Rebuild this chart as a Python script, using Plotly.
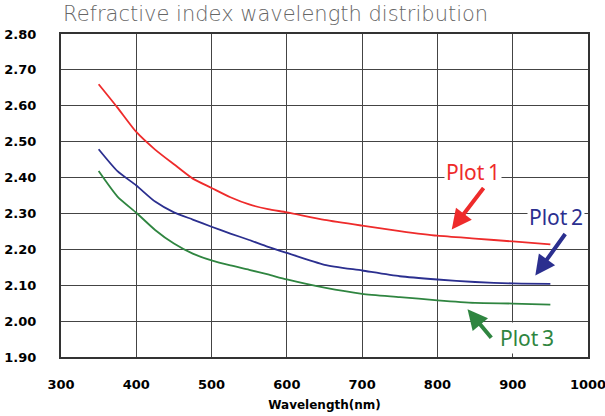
import plotly.graph_objects as go

wavelength = [350, 375, 400, 425, 450, 475, 500, 525, 550, 575, 600, 650, 700, 750, 800, 850, 900, 950]
plot1 = [2.660, 2.595, 2.527, 2.478, 2.437, 2.397, 2.371, 2.345, 2.325, 2.312, 2.303, 2.282, 2.266, 2.251, 2.238, 2.230, 2.222, 2.214]
plot2 = [2.479, 2.418, 2.378, 2.333, 2.303, 2.283, 2.263, 2.244, 2.226, 2.207, 2.190, 2.157, 2.141, 2.125, 2.116, 2.109, 2.105, 2.104]
plot3 = [2.418, 2.347, 2.302, 2.254, 2.216, 2.188, 2.169, 2.155, 2.143, 2.130, 2.116, 2.093, 2.076, 2.067, 2.058, 2.051, 2.049, 2.046]

series_names = ["Plot 1", "Plot 2", "Plot 3"]
colors = ["#EE2B2B", "#2B2F8F", "#2F8540"]

fig = go.Figure()
for name, vals, col in zip(series_names, [plot1, plot2, plot3], colors):
    fig.add_trace(go.Scatter(x=wavelength, y=vals, mode="lines", name=name,
                             line=dict(color=col, width=1.8, shape="spline", smoothing=0.6),
                             showlegend=False))

# labels (text) and arrows (head position in data, tail offset in px)
labels = [
    dict(text="Plot\u20091", tx=473, ty=172, hx=819, hy=2.255, ax=33, ay=-43, col=colors[0]),
    dict(text="Plot\u20092", tx=556, ty=217, hx=930, hy=2.127, ax=31, ay=-43, col=colors[1]),
    dict(text="Plot\u20093", tx=527, ty=338, hx=840, hy=2.033, ax=25, ay=30, col=colors[2]),
]

x0, x1, px0, px1 = 300, 1000, 61, 588
y0, y1, py0, py1 = 1.9, 2.8, 357, 34

def px2x(p):
    return x0 + (p - px0) / (px1 - px0) * (x1 - x0)

def py2y(p):
    return y0 + (p - py0) / (py1 - py0) * (y1 - y0)

for lb in labels:
    fig.add_annotation(x=px2x(lb["tx"]), y=py2y(lb["ty"]), xref="x", yref="y",
                       text=lb["text"], showarrow=False,
                       font=dict(family="Noto Sans", size=21, color=lb["col"]),
                       bgcolor="white")
    fig.add_annotation(x=lb["hx"], y=lb["hy"], xref="x", yref="y", text="",
                       showarrow=True, ax=lb["ax"], ay=lb["ay"],
                       arrowcolor=lb["col"], arrowwidth=4, arrowhead=2, arrowsize=1.0)

fig.update_layout(
    width=605, height=416,
    margin=dict(l=61, r=17, t=34, b=59, autoexpand=False),
    plot_bgcolor="white", paper_bgcolor="white",
    title=dict(text="Refractive index wavelength distribution", x=63/605, xanchor="left",
               y=1 - 14/416, yanchor="middle",
               font=dict(family="DejaVu Sans", size=21, color="#666666", weight=300)),
)
fig.update_xaxes(range=[300, 1000], dtick=100, tick0=300, automargin=False,
                 showgrid=True, gridcolor="#444444", gridwidth=1,
                 showline=True, linecolor="#333333", linewidth=2, mirror=True,
                 ticks="", ticklabelstandoff=14, ticklabeloverflow="allow",
                 tickfont=dict(family="DejaVu Sans", size=13, color="black", weight="bold"),
                 title=dict(text="Wavelength(nm)", standoff=10,
                            font=dict(family="DejaVu Sans", size=12, color="black", weight="bold")),
                 zeroline=False)
fig.update_yaxes(range=[1.9, 2.8], dtick=0.1, tick0=1.9, tickformat=".2f", automargin=False,
                 showgrid=True, gridcolor="#444444", gridwidth=1,
                 showline=True, linecolor="#333333", linewidth=2, mirror=True,
                 ticks="", ticklabelstandoff=20, ticklabeloverflow="allow",
                 tickfont=dict(family="DejaVu Sans", size=13, color="black", weight="bold"),
                 zeroline=False)

fig.write_html("out.html")
